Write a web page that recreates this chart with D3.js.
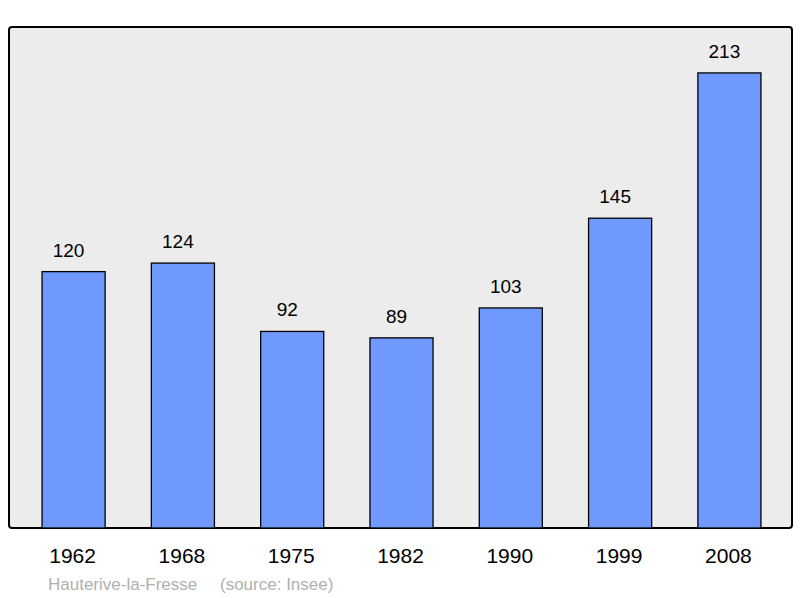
<!DOCTYPE html>
<html><head><meta charset="utf-8">
<script src="https://cdn.jsdelivr.net/npm/d3@7"></script>
<style>body{margin:0;background:#fff}</style></head>
<body><svg id="c" width="800" height="598"></svg>
<script>
const years=["1962","1968","1975","1982","1990","1999","2008"];
const values=[120,124,92,89,103,145,213];
const svg=d3.select("#c");
const font="Liberation Sans, Arial, sans-serif";
svg.append("rect").attr("x",9).attr("y",27).attr("width",783).attr("height",501)
  .attr("rx",3).attr("fill","#ececec").attr("stroke","#000").attr("stroke-width",2);
const x=d3.scaleBand().domain(years).range([19,784]).paddingInner(0.423).paddingOuter(0.211);
const y=d3.scaleLinear().domain([0,234.5]).range([528,27]);
svg.selectAll(".b").data(values).join("rect")
  .attr("x",(d,i)=>x(years[i])).attr("y",d=>y(d)).attr("width",x.bandwidth())
  .attr("height",d=>528-y(d)).attr("fill","#7099ff").attr("stroke","#000").attr("stroke-width",1.3);
svg.selectAll(".v").data(values).join("text")
  .attr("x",(d,i)=>x(years[i])+x.bandwidth()/2-5).attr("y",d=>y(d)-15)
  .attr("text-anchor","middle").attr("font-family",font).attr("font-size",19).text(d=>d);
const ax=svg.append("g").attr("transform","translate(-1,528)").call(d3.axisBottom(x).tickSize(0).tickPadding(20));
ax.select(".domain").remove();
ax.selectAll("text").attr("font-family",font).attr("font-size",21).attr("fill","#000");
svg.append("text").attr("x",48).attr("y",590).attr("font-family",font).attr("font-size",17)
  .attr("fill","#b0b0b0").text("Hauterive-la-Fresse");
svg.append("text").attr("x",220).attr("y",590).attr("font-family",font).attr("font-size",17)
  .attr("fill","#b0b0b0").text("(source: Insee)");
</script></body></html>
